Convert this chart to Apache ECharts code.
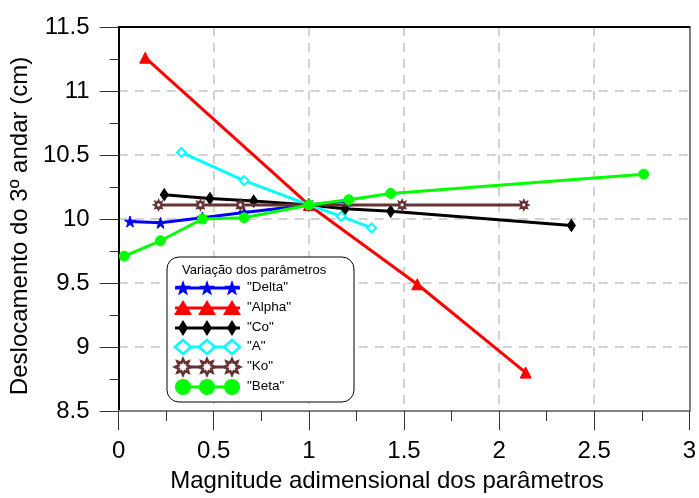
<!DOCTYPE html>
<html><head><meta charset="utf-8">
<script src="https://cdn.jsdelivr.net/npm/echarts@6/dist/echarts.min.js"></script>
<style>html,body{margin:0;padding:0;background:#fff}#c{width:699px;height:498px}</style>
</head><body><div id="c"></div>
<script>
const seriesNames = ['"Delta"', '"Alpha"', '"Co"', '"A"', '"Ko"', '"Beta"'];
const deltaX = [0.06, 0.22, 0.44, 0.66, 1.0, 1.2];
const deltaY = [9.98, 9.97, 10.01, 10.05, 10.11, 10.14];
const alphaX = [0.14, 1.0, 1.57, 2.14];
const alphaY = [11.26, 10.11, 9.49, 8.80];
const coX = [0.24, 0.48, 0.71, 1.0, 1.19, 1.43, 2.38];
const coY = [10.19, 10.16, 10.14, 10.11, 10.08, 10.06, 9.95];
const aX = [0.33, 0.66, 1.0, 1.17, 1.33];
const aY = [10.52, 10.30, 10.11, 10.02, 9.93];
const koX = [0.21, 0.43, 0.64, 1.0, 1.49, 2.13];
const koY = [10.11, 10.11, 10.11, 10.11, 10.11, 10.11];
const betaX = [0.03, 0.22, 0.44, 0.66, 1.0, 1.21, 1.43, 2.76];
const betaY = [9.71, 9.83, 10.0, 10.01, 10.11, 10.15, 10.2, 10.35];
const xTickLabels = ['0', '0.5', '1', '1.5', '2', '2.5', '3'];
const yTickLabels = ['8.5', '9', '9.5', '10', '10.5', '11', '11.5'];

const FONT = '"Liberation Sans", Arial, sans-serif';
function starPts(n, ro, ri, cx, cy) {
  const p = [];
  for (let i = 0; i < 2 * n; i++) {
    const a = -Math.PI / 2 + i * Math.PI / n;
    const r = i % 2 ? ri : ro;
    p.push([cx + r * Math.cos(a), cy + r * Math.sin(a)]);
  }
  return p;
}
function ptsToPath(p) { return 'M' + p.map(q => q[0].toFixed(2) + ',' + q[1].toFixed(2)).join('L') + 'Z'; }
const star5 = ptsToPath(starPts(5, 50, 20, 50, 50));
const star8 = ptsToPath(starPts(8, 50, 28, 50, 50));
const diamondNarrow = 'M50,0L85,50L50,100L15,50Z';

const colors = ['#0000ff', '#ff0000', '#000000', '#00ffff', '#663333', '#00ff00'];
const xs = [deltaX, alphaX, coX, aX, koX, betaX];
const ys = [deltaY, alphaY, coY, aY, koY, betaY];
const symbols = ['path://' + star5, 'triangle', 'path://' + diamondNarrow, 'emptyDiamond', 'path://' + star8, 'circle'];
const sizes = [11, 11, [8, 12], 9, 9, 10];

const series = seriesNames.map((n, i) => ({
  name: n, type: 'line',
  data: xs[i].map((x, j) => [x, ys[i][j]]),
  symbol: symbols[i], symbolSize: sizes[i],
  showSymbol: true,
  lineStyle: { color: colors[i], width: 3 },
  itemStyle: i === 4 ? { color: '#ffffff', borderColor: colors[i], borderWidth: 2 } : { color: colors[i], borderColor: colors[i] },
  z: 2 + i, animation: false
}));

// legend drawn as graphic
const lg = [];
lg.push({ type: 'rect', shape: { x: 167, y: 257, width: 187, height: 145, r: 12 }, style: { fill: '#fff', stroke: '#000', lineWidth: 1 }, z: 100 });
lg.push({ type: 'text', x: 182, y: 264, style: { text: 'Variação dos parâmetros', fontSize: 13, fontFamily: FONT, fill: '#000' }, z: 101 });
const rowY = [288, 308, 328, 347, 367, 387];
const mx = [183, 207, 232];
rowY.forEach((y, i) => {
  lg.push({ type: 'line', shape: { x1: 175, y1: y, x2: 240, y2: y }, style: { stroke: colors[i], lineWidth: 3 }, z: 101 });
  mx.forEach(x => {
    let el;
    if (i === 0) el = { type: 'polygon', shape: { points: starPts(5, 8.5, 3.4, x, y + 0.5) }, style: { fill: colors[i] } };
    else if (i === 1) el = { type: 'polygon', shape: { points: [[x, y - 8], [x + 9, y + 7], [x - 9, y + 7]] }, style: { fill: colors[i] } };
    else if (i === 2) el = { type: 'polygon', shape: { points: [[x, y - 8], [x + 5, y], [x, y + 8], [x - 5, y]] }, style: { fill: colors[i] } };
    else if (i === 3) el = { type: 'polygon', shape: { points: [[x, y - 7], [x + 8, y], [x, y + 7], [x - 8, y]] }, style: { fill: '#fff', stroke: colors[i], lineWidth: 2.5 } };
    else if (i === 4) el = { type: 'polygon', shape: { points: starPts(8, 8, 4.5, x, y) }, style: { fill: '#fff', stroke: colors[i], lineWidth: 2.5 } };
    else el = { type: 'circle', shape: { cx: x, cy: y, r: 8 }, style: { fill: colors[i] } };
    el.z = 102;
    lg.push(el);
  });
  lg.push({ type: 'text', x: 247, y: y - 8, style: { text: seriesNames[i], fontSize: 13.5, fontFamily: FONT, fill: '#000' }, z: 101 });
});

const chart = echarts.init(document.getElementById('c'), null, { renderer: 'canvas' });
chart.setOption({
  animation: false,
  backgroundColor: '#fff',
  textStyle: { fontFamily: FONT },
  grid: { left: 116, right: 6, top: 27, bottom: 83 },
  xAxis: [{
    type: 'value', min: 0, max: 3, interval: 0.5, position: 'bottom',
    name: 'Magnitude adimensional dos parâmetros', nameLocation: 'middle', nameGap: 58,
    nameTextStyle: { fontSize: 24, color: '#000', fontFamily: FONT, padding: [0, 34, 0, 0] },
    axisLine: { show: true, onZero: false, lineStyle: { color: '#808080', width: 2 } },
    axisTick: { show: true, length: 19, lineStyle: { color: '#333', width: 1 } },
    minorTick: { show: true, splitNumber: 2, length: 10, lineStyle: { color: '#333', width: 1 } },
    axisLabel: { fontSize: 24, color: '#000', margin: 28, fontFamily: FONT, formatter: v => xTickLabels[Math.round(v * 2)] },
    splitLine: { show: true, lineStyle: { color: '#c4c4c4', type: [9, 7], width: 1.5 } }
  }, {
    type: 'value', min: 0, max: 3, position: 'top',
    axisLine: { show: true, onZero: false, lineStyle: { color: '#000', width: 2 } },
    axisTick: { show: false }, axisLabel: { show: false }, splitLine: { show: false }
  }],
  yAxis: [{
    type: 'value', min: 8.5, max: 11.5, interval: 0.5,
    name: 'Deslocamento do 3º andar (cm)', nameLocation: 'middle', nameGap: 82,
    nameTextStyle: { fontSize: 24, color: '#000', fontFamily: FONT, padding: [0, 14, 0, 0] },
    axisLine: { show: true, onZero: false, lineStyle: { color: '#000', width: 2 } },
    axisTick: { show: true, length: 19, lineStyle: { color: '#333', width: 1 } },
    minorTick: { show: true, splitNumber: 2, length: 9, lineStyle: { color: '#333', width: 1 } },
    axisLabel: { fontSize: 24, color: '#000', margin: 29, fontFamily: FONT, formatter: v => yTickLabels[Math.round((v - 8.5) * 2)] },
    splitLine: { show: true, lineStyle: { color: '#c4c4c4', type: [9, 7], width: 1.5 } }
  }, {
    type: 'value', min: 8.5, max: 11.5, position: 'right',
    axisLine: { show: true, onZero: false, lineStyle: { color: '#808080', width: 2 } },
    axisTick: { show: false }, axisLabel: { show: false }, splitLine: { show: false }
  }],
  series: series,
  graphic: lg
});
</script></body></html>
